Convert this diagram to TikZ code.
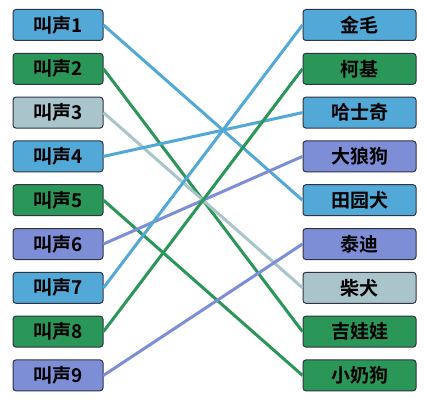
\documentclass[tikz,border=0pt]{standalone}
\usepackage{fontspec}
\newfontfamily\cjk{Noto Sans CJK SC Bold}
\definecolor{cblue}{HTML}{52A8D6}
\definecolor{cgreen}{HTML}{2A9657}
\definecolor{cgray}{HTML}{A9C5CB}
\definecolor{cpurple}{HTML}{7E8ED6}
\definecolor{cborder}{HTML}{2E3440}
\tikzset{
  box/.style={draw=cborder, line width=1pt, rounded corners=3pt, minimum height=31pt, inner sep=0pt, font=\cjk\fontsize{19}{19}\selectfont, text=black},
  lbox/.style={box, minimum width=90pt},
  rbox/.style={box, minimum width=113pt},
  link/.style={line width=3pt},
}
\begin{document}
\begin{tikzpicture}[x=1pt,y=-1pt]
\useasboundingbox (0,0) rectangle (427,401);
\fill[white] (0,0) rectangle (427,401);
% left
\node[lbox, fill=cblue]   (l1) at (58,25)    {叫声1};
\node[lbox, fill=cgreen]  (l2) at (58,68.8)  {叫声2};
\node[lbox, fill=cgray]   (l3) at (58,112.6) {叫声3};
\node[lbox, fill=cblue]   (l4) at (58,156.4) {叫声4};
\node[lbox, fill=cgreen]  (l5) at (58,200.2) {叫声5};
\node[lbox, fill=cpurple] (l6) at (58,244)   {叫声6};
\node[lbox, fill=cblue]   (l7) at (58,287.8) {叫声7};
\node[lbox, fill=cgreen]  (l8) at (58,331.6) {叫声8};
\node[lbox, fill=cpurple] (l9) at (58,375.4) {叫声9};
% right
\node[rbox, fill=cblue]   (r1) at (359.5,25)    {金毛};
\node[rbox, fill=cgreen]  (r2) at (359.5,68.8)  {柯基};
\node[rbox, fill=cblue]   (r3) at (359.5,112.6) {哈士奇};
\node[rbox, fill=cpurple] (r4) at (359.5,156.4) {大狼狗};
\node[rbox, fill=cblue]   (r5) at (359.5,200.2) {田园犬};
\node[rbox, fill=cpurple] (r6) at (359.5,244)   {泰迪};
\node[rbox, fill=cgray]   (r7) at (359.5,287.8) {柴犬};
\node[rbox, fill=cgreen]  (r8) at (359.5,331.6) {吉娃娃};
\node[rbox, fill=cgreen]  (r9) at (359.5,375.4) {小奶狗};
% links
\draw[link, cblue]   (l1.east) -- (r5.west);
\draw[link, cgreen]  (l2.east) -- (r8.west);
\draw[link, cgray]   (l3.east) -- (r7.west);
\draw[link, cblue]   (l4.east) -- (r3.west);
\draw[link, cgreen]  (l5.east) -- (r9.west);
\draw[link, cpurple] (l6.east) -- (r4.west);
\draw[link, cblue]   (l7.east) -- (r1.west);
\draw[link, cgreen]  (l8.east) -- (r2.west);
\draw[link, cpurple] (l9.east) -- (r6.west);
\end{tikzpicture}
\end{document}
